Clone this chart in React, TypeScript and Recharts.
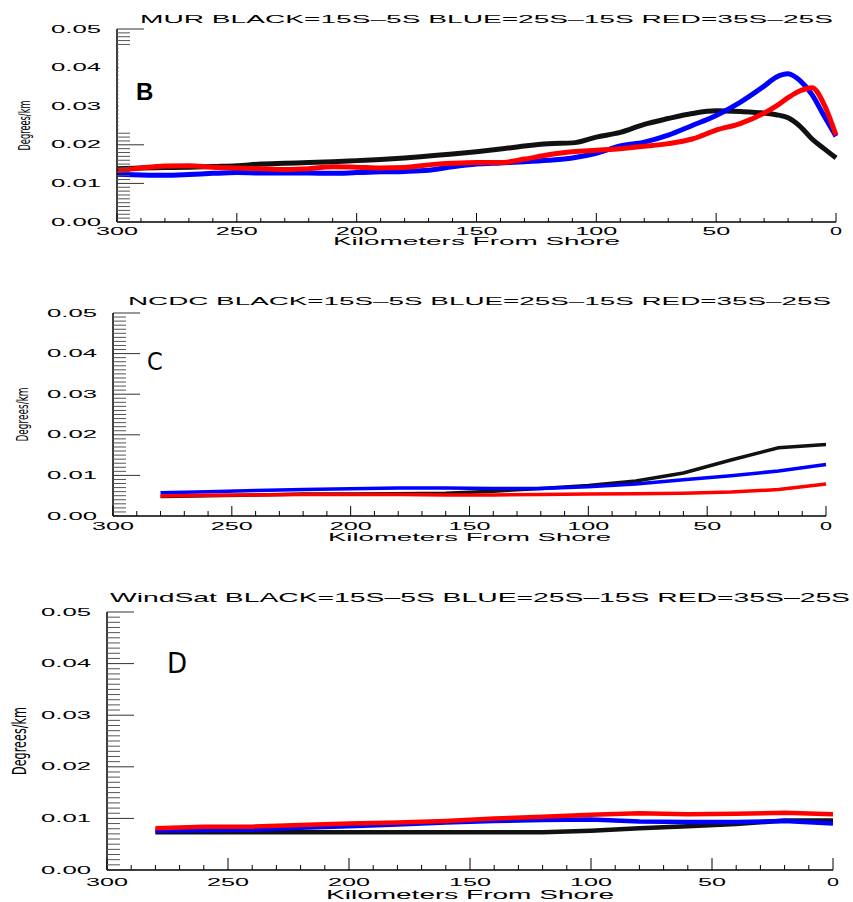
import React from "react";
import { Line, LineChart, XAxis, YAxis } from "recharts";

// MUR (panel B), km from shore
const murKm = [300, 290, 280, 270, 260, 250, 240, 230, 220, 210, 200, 190, 180, 170, 160, 150, 140, 130, 120, 110, 100, 90, 80, 70, 60, 50, 40, 30, 25, 20, 15, 10, 5, 0];
const murBlack = [0.0138, 0.014, 0.0141, 0.0142, 0.0144, 0.0146, 0.015, 0.0152, 0.0154, 0.0156, 0.0159, 0.0162, 0.0166, 0.0171, 0.0176, 0.0182, 0.0189, 0.0197, 0.0203, 0.0205, 0.022, 0.0232, 0.0253, 0.0268, 0.0281, 0.0288, 0.0286, 0.0282, 0.0278, 0.027, 0.0248, 0.0215, 0.019, 0.0166];
const murBlue = [0.0124, 0.0122, 0.0121, 0.0123, 0.0126, 0.0128, 0.0127, 0.0127, 0.0127, 0.0126, 0.0128, 0.013, 0.0131, 0.0134, 0.0143, 0.015, 0.0153, 0.0156, 0.016, 0.0166, 0.0178, 0.0197, 0.0207, 0.0225, 0.025, 0.0276, 0.031, 0.0352, 0.0375, 0.0384, 0.0366, 0.033, 0.0275, 0.0222];
const murRed = [0.0133, 0.014, 0.0145, 0.0146, 0.0142, 0.014, 0.0138, 0.0136, 0.0138, 0.0143, 0.0142, 0.014, 0.0141, 0.0148, 0.0152, 0.0154, 0.0154, 0.0163, 0.0174, 0.0182, 0.0186, 0.019, 0.0196, 0.0203, 0.0215, 0.0238, 0.0255, 0.0282, 0.03, 0.0322, 0.034, 0.0348, 0.0305, 0.0225];

// NCDC (panel C)
const ncdcKm = [280, 260, 240, 220, 200, 180, 160, 140, 120, 100, 80, 60, 40, 20, 0];
const ncdcBlack = [0.0048, 0.005, 0.0052, 0.0054, 0.0054, 0.0055, 0.0056, 0.0061, 0.0068, 0.0075, 0.0086, 0.0106, 0.0138, 0.0168, 0.0176];
const ncdcBlue = [0.0057, 0.006, 0.0063, 0.0065, 0.0067, 0.0069, 0.0069, 0.0068, 0.0068, 0.0072, 0.0079, 0.0089, 0.0099, 0.0111, 0.0127];
const ncdcRed = [0.0049, 0.0051, 0.0052, 0.0053, 0.0053, 0.0053, 0.0052, 0.0052, 0.0053, 0.0054, 0.0055, 0.0056, 0.0059, 0.0065, 0.0079];

// WindSat (panel D)
const windsatKm = [280, 260, 240, 220, 200, 180, 160, 140, 120, 100, 80, 60, 40, 20, 0];
const windsatBlack = [0.0073, 0.0073, 0.0073, 0.0073, 0.0073, 0.0073, 0.0073, 0.0073, 0.0073, 0.0076, 0.0081, 0.0085, 0.0089, 0.0096, 0.0096];
const windsatBlue = [0.0076, 0.0077, 0.0078, 0.0082, 0.0085, 0.0088, 0.0092, 0.0095, 0.0097, 0.0098, 0.0094, 0.0093, 0.0093, 0.0095, 0.009];
const windsatRed = [0.0081, 0.0084, 0.0084, 0.0087, 0.009, 0.0092, 0.0095, 0.01, 0.0103, 0.0107, 0.011, 0.0108, 0.0109, 0.0111, 0.0108];

const xTicks = Array.from({ length: 31 }, (_, i) => i * 10); // minor every 10 km
const yTicks = Array.from({ length: 51 }, (_, i) => i / 1000); // minor every 0.001

const W = 853;
const FONT = "'Liberation Sans', Arial, sans-serif";

const rows = (km: number[], black: number[], blue: number[], red: number[]) =>
  km.map((k, i) => ({ km: k, black: black[i], blue: blue[i], red: red[i] }));

// IDL fonts are very wide; approximate by stretching glyphs
const charW = (s: string) => s.split("").reduce((a, c) => a + (c === "." ? 8 : 14), 0);

function Wide(props: { x: number; y: number; len: number; size: number; anchor?: string; children: string }) {
  const { x, y, len, size, anchor = "middle", children } = props;
  return (
    <text
      x={x}
      y={y}
      fontFamily={FONT}
      fontSize={size}
      textAnchor={anchor as any}
      dominantBaseline="central"
      textLength={len}
      lengthAdjust="spacingAndGlyphs"
      fill="#000"
    >
      {children}
    </text>
  );
}

interface PanelCfg {
  title: string;
  letter: string;
  top: number;
  height: number;
  left: number;
  right: number;
  plotTop: number;
  plotBottom: number;
  data: { km: number; black: number; blue: number; red: number }[];
  lineW: number;
  curve: "monotone" | "linear";
  xLabDy: number;
  xTitleDy: number;
  xTitleLen: number;
  xTitleSize: number;
  yTitleX: number;
  yTitleLen: number;
  yTitleSize: number;
  xMajor: number;
  xMinor: number;
}

const panels: PanelCfg[] = [
  {
    title: "MUR BLACK=15S–5S BLUE=25S–15S RED=35S–25S",
    letter: "B",
    top: 0, height: 250, left: 117, right: 836, plotTop: 29, plotBottom: 222,
    data: rows(murKm, murBlack, murBlue, murRed),
    lineW: 5, curve: "monotone",
    xLabDy: 9, xTitleDy: 19, xTitleLen: 287, xTitleSize: 10,
    yTitleX: 25, yTitleLen: 50, yTitleSize: 15, xMajor: 9, xMinor: 4,
  },
  {
    title: "NCDC BLACK=15S–5S BLUE=25S–15S RED=35S–25S",
    letter: "C",
    top: 280, height: 270, left: 113, right: 826, plotTop: 313, plotBottom: 516,
    data: rows(ncdcKm, ncdcBlack, ncdcBlue, ncdcRed),
    lineW: 3.5, curve: "linear",
    xLabDy: 10, xTitleDy: 21, xTitleLen: 283, xTitleSize: 10,
    yTitleX: 22, yTitleLen: 54, yTitleSize: 16, xMajor: 10, xMinor: 5,
  },
  {
    title: "WindSat BLACK=15S–5S BLUE=25S–15S RED=35S–25S",
    letter: "D",
    top: 580, height: 322, left: 107, right: 833, plotTop: 612, plotBottom: 870,
    data: rows(windsatKm, windsatBlack, windsatBlue, windsatRed),
    lineW: 4.5, curve: "linear",
    xLabDy: 12, xTitleDy: 25, xTitleLen: 288, xTitleSize: 12,
    yTitleX: 19, yTitleLen: 68, yTitleSize: 20, xMajor: 12, xMinor: 5,
  },
];

const isMajorY = (v: number) => Math.round(v * 1000) % 10 === 0;

function Panel({ p }: { p: PanelCfg }) {
  const mTop = p.plotTop - p.top;
  const xAxisH = p.top + p.height - p.plotBottom;
  const bottomY = p.plotBottom - p.top;
  const midY = (p.plotTop + p.plotBottom) / 2 - p.top;
  const axis = { stroke: "#000", strokeWidth: 1.5 };
  return (
    <div style={{ position: "absolute", left: 0, top: p.top }}>
      <LineChart width={W} height={p.height} data={p.data} margin={{ top: mTop, right: W - p.right, left: 0, bottom: 0 }}>
        <XAxis
          dataKey="km" type="number" domain={[0, 300]} reversed ticks={xTicks} interval={0}
          height={xAxisH} tickSize={0} tickMargin={0} tickLine={false} axisLine={axis}
          tick={(t: any) => {
            const v = t.payload.value;
            const major = v % 50 === 0;
            return (
              <g>
                <line x1={t.x} x2={t.x} y1={t.y} y2={t.y - (major ? p.xMajor : p.xMinor)} stroke="#000" />
                {major && <Wide x={t.x} y={t.y + p.xLabDy} len={charW(String(v)) - (v === 0 ? 2 : 0)} size={10}>{String(v)}</Wide>}
              </g>
            );
          }}
          label={{
            content: () => (
              <Wide x={(p.left + p.right) / 2} y={bottomY + p.xTitleDy} len={p.xTitleLen} size={p.xTitleSize}>
                Kilometers From Shore
              </Wide>
            ),
          }}
        />
        <XAxis
          xAxisId="top" orientation="top" type="number" domain={[0, 300]} reversed ticks={xTicks} interval={0}
          height={0} tickSize={0} tickMargin={0} tickLine={false} axisLine={axis}
          tick={(t: any) => {
            const major = t.payload.value % 50 === 0;
            return <line x1={t.x} x2={t.x} y1={t.y} y2={t.y + (major ? p.xMajor : p.xMinor)} stroke="#000" />;
          }}
        />
        <YAxis
          type="number" domain={[0, 0.05]} ticks={yTicks} interval={0}
          width={p.left} tickSize={0} tickMargin={0} tickLine={false} axisLine={axis}
          tick={(t: any) => {
            const v = t.payload.value;
            const major = isMajorY(v);
            const s = v.toFixed(2);
            return (
              <g>
                <line x1={t.x} x2={t.x + (major ? 27 : 13)} y1={t.y} y2={t.y} stroke={major ? "#333" : "#555"} />
                {major && <Wide x={t.x - 16} y={t.y} len={charW(s)} size={10} anchor="end">{s}</Wide>}
              </g>
            );
          }}
          label={{
            content: () => (
              <text
                x={p.yTitleX} y={midY} fontFamily="'Liberation Sans Narrow', 'DejaVu Sans Condensed', sans-serif"
                fontSize={p.yTitleSize} textAnchor="middle" dominantBaseline="central"
                textLength={p.yTitleLen} lengthAdjust="spacingAndGlyphs"
                transform={`rotate(-90 ${p.yTitleX} ${midY})`}
              >
                Degrees/km
              </text>
            ),
          }}
        />
        <YAxis
          yAxisId="right" orientation="right" type="number" domain={[0, 0.05]} ticks={yTicks} interval={0}
          width={0} tickSize={0} tickMargin={0} tickLine={false} axisLine={axis}
          tick={(t: any) => {
            const major = isMajorY(t.payload.value);
            return <line x1={t.x} x2={t.x - (major ? 27 : 13)} y1={t.y} y2={t.y} stroke={major ? "#333" : "#555"} />;
          }}
        />
        <Line dataKey="black" type={p.curve} stroke="#111" strokeWidth={p.lineW} dot={false} isAnimationActive={false} />
        <Line dataKey="blue" type={p.curve} stroke="#0000ff" strokeWidth={p.lineW} dot={false} isAnimationActive={false} />
        <Line dataKey="red" type={p.curve} stroke="#ff0000" strokeWidth={p.lineW} dot={false} isAnimationActive={false} />
      </LineChart>
    </div>
  );
}

export default function App() {
  return (
    <div style={{ position: "absolute", left: 0, top: 0, width: W, height: 902, background: "#fff" }}>
      {panels.map((p) => (
        <Panel key={p.letter} p={p} />
      ))}
      <svg width={W} height={902} style={{ position: "absolute", left: 0, top: 0, pointerEvents: "none" }}>
        {/* pasted panel letter B hides part of the left ticks */}
        <rect x={118.5} y={47} width={30} height={85} fill="#fff" />
        <Wide x={140} y={19} len={693} size={11} anchor="start">{panels[0].title}</Wide>
        <Wide x={128} y={301} len={703} size={11} anchor="start">{panels[1].title}</Wide>
        <Wide x={110} y={597} len={740} size={13} anchor="start">{panels[2].title}</Wide>
        <text x={136} y={100} fontFamily={FONT} fontWeight="bold" fontSize={24}>B</text>
        <text x={147} y={370} fontFamily="'DejaVu Sans Condensed', sans-serif" fontSize={25}>C</text>
        <text x={167} y={673} fontFamily="'DejaVu Sans Condensed', sans-serif" fontSize={29}>D</text>
      </svg>
    </div>
  );
}
